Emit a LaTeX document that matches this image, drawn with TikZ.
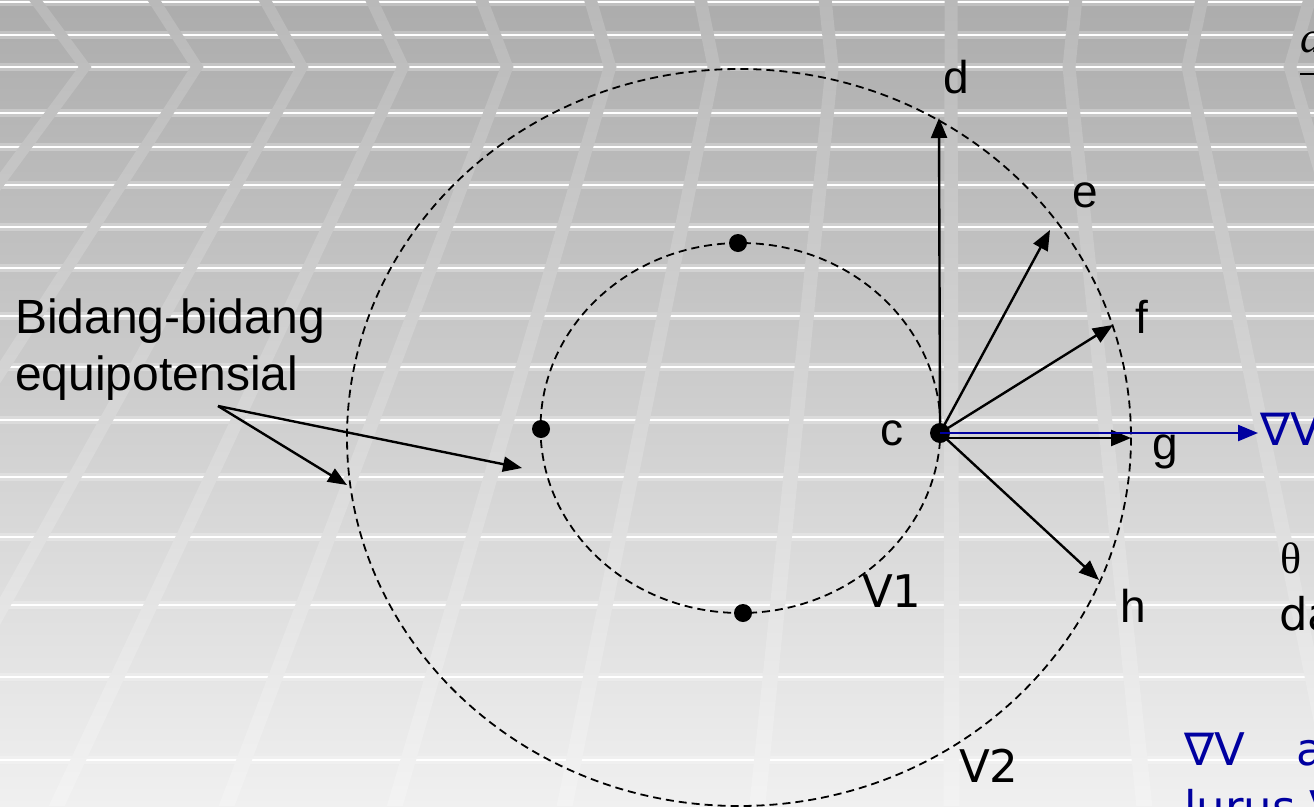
\documentclass[tikz,border=0pt]{standalone}
\usepackage{fontspec}
\setmainfont{Liberation Sans}
\newfontfamily\djv{DejaVu Sans}
\newfontfamily\lserif{Liberation Serif}
\usetikzlibrary{arrows.meta}
\definecolor{gvblue}{HTML}{0000A0}
\definecolor{bgtop}{RGB}{172,172,172}
\definecolor{bgbot}{RGB}{240,240,240}
\definecolor{sttop}{RGB}{185,185,185}
\definecolor{stmid}{RGB}{203,203,203}
\definecolor{stbot}{RGB}{243,243,243}
\begin{document}
\begin{tikzpicture}[x=1pt,y=-1pt,
  lbl/.style={font=\fontsize{46}{52}\selectfont, inner sep=0pt, anchor=base west},
  vlbl/.style={font=\djv\fontsize{45}{52}\selectfont, inner sep=0pt, anchor=base west},
  dot/.style={circle, fill=black, inner sep=0pt, minimum size=18pt},
  vec/.style={line width=2.4pt, -{Triangle[length=20pt,width=16pt]}},
  pointer/.style={line width=2.4pt, -{Triangle[length=19pt,width=15pt]}},
  equi/.style={line width=1.8pt, dash pattern=on 8pt off 5pt},
]
\useasboundingbox (0,0) rectangle (1314,806);
\clip (0,0) rectangle (1314,806);
% background
\shade[top color=bgtop, bottom color=bgbot] (0,0) rectangle (1314,806);
\foreach \yy in {2,35,67,113,147,185,227,268,316,367,420,477,537,605,677,760} {
  \fill[white,opacity=0.25] (0,\yy-4) rectangle (1314,\yy+4);
  \draw[white, line width=2.5pt] (0,\yy) -- (1314,\yy);
}
\begin{scope}
\clip \foreach \a/\b/\c in {35.3/85/-462.5, 153.8/197/-279.7, 264.8/302/-108.2,
  371.6/403/56.7, 481.6/507/226.6, 590.5/610/394.8, 700.5/714/564.6,
  825.2/832/757.3, 951/951/951.6, 1075.8/1069/1144.3, 1201.7/1188/1338.7,
  1309.5/1290/1505.2}
  { (\a-6.5,0) -- (\a+6.5,0) -- (\b+6.5,67) -- (\c+8,806) -- (\c-8,806) -- (\b-6.5,67) -- cycle };
\shade[top color=sttop, middle color=stmid, bottom color=stbot] (0,0) rectangle (1314,806);
\end{scope}

% equipotential surfaces
\draw[equi] (740.5,428) ellipse [x radius=200, y radius=185];
\draw[equi] (739,437.5) ellipse [x radius=392, y radius=368.5];

% points
\node[dot] (ptop) at (738,243) {};
\node[dot] (pleft) at (541,429) {};
\node[dot] (pbot) at (743,613) {};
\node[dot, minimum size=20pt] (c) at (940,433) {};

% vector ends
\coordinate (dT) at (939,118);
\coordinate (eT) at (1050,230);
\coordinate (fT) at (1113,325);
\coordinate (gT) at (1131,438);
\coordinate (hT) at (1099,580);
\coordinate (bT) at (1258,433);

\draw[vec] (c.center) -- (dT);
\draw[vec] (c.center) -- (eT);
\draw[vec] (c.center) -- (fT);
\draw[vec] ([yshift=-5pt]c.center) -- (gT);
\draw[vec] (c.center) -- (hT);
\draw[vec, gvblue] (c.center) -- (bT);

% labels
\node[lbl] (lc) at (880,445) {c};
\node[lbl] (ld) at (943,93) {d};
\node[lbl] (le) at (1072,207) {e};
\node[lbl] (lf) at (1135,333) {f};
\node[lbl] (lg) at (1152,459) {g};
\node[lbl] (lh) at (1120,622) {h};
\node[vlbl] (v1) at (862,607) {V1};
\node[vlbl] (v2) at (959,782) {V2};

% equipotential label
\node[font=\fontsize{48}{57}\selectfont, inner sep=0pt, anchor=base west, align=left] (bid) at (15,390) {Bidang-bidang\\equipotensial};
\coordinate (ptr) at (218,406);
\coordinate (p1) at (347,485);
\coordinate (p2) at (522,468);
\draw[pointer] (ptr) -- (p1);
\draw[pointer] (ptr) -- (p2);

% right side texts
\node[vlbl, text=gvblue] (grad) at (1260,445) {∇V};
\node[font=\lserif\fontsize{44}{50}\selectfont, inner sep=0pt, anchor=base west] (theta) at (1280,573) {θ};
\node[vlbl] (da) at (1279,630) {da};
\node[vlbl, text=gvblue] (grad2) at (1184,765) {∇V};
\node[vlbl, text=gvblue] (ga) at (1296,765) {a};
\node[vlbl, text=gvblue] (lurus) at (1184,823) {lurus V};
\node[font=\lserif\itshape\fontsize{44}{50}\selectfont, inner sep=0pt, anchor=base west] (fd) at (1300,52) {d};
\coordinate (fb1) at (1300,74);
\coordinate (fb2) at (1314,74);
\draw[line width=2pt] (fb1) -- (fb2);
\end{tikzpicture}
\end{document}
